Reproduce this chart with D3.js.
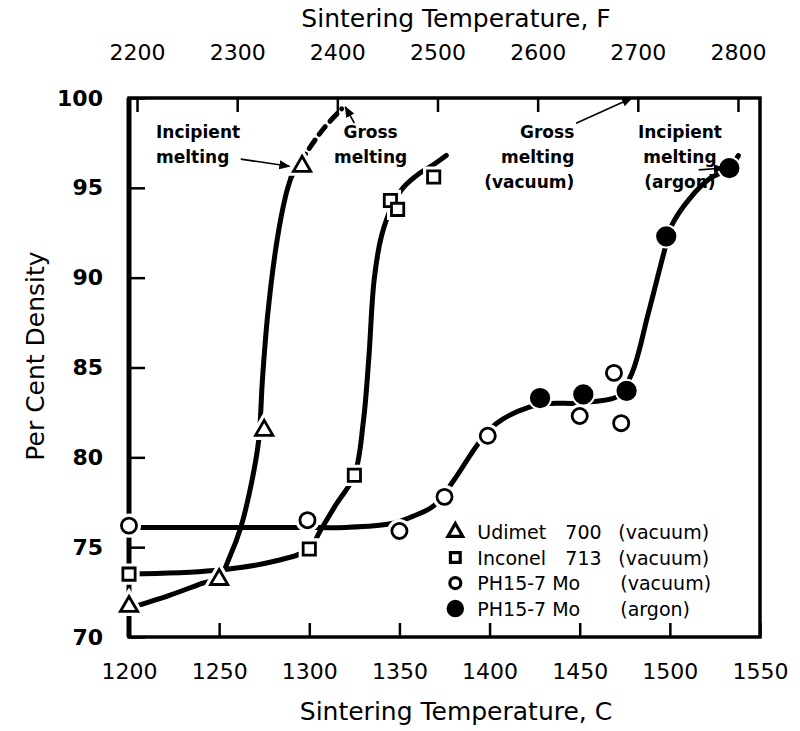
<!DOCTYPE html>
<html>
<head>
<meta charset="utf-8">
<script src="https://cdn.jsdelivr.net/npm/d3@7"></script>
<style>
  body { margin: 0; background: #fff; }
  svg text { font-family: "DejaVu Sans", sans-serif; fill: #000; }
</style>
</head>
<body>
<div id="chart"></div>
<script>
// measured points (deg C, per cent density)
const udimetC = [1200, 1250, 1275, 1296];
const udimetD = [71.7, 73.2, 81.5, 96.2];
const inconelC = [1200, 1300, 1325, 1345, 1349, 1369];
const inconelD = [73.5, 74.9, 79.0, 94.3, 93.8, 95.6];
const phVacC = [1200, 1299, 1350, 1375, 1399, 1450, 1469, 1473];
const phVacD = [76.2, 76.5, 75.9, 77.8, 81.2, 82.3, 84.7, 81.9];
const phArgC = [1428, 1452, 1476, 1498, 1533];
const phArgD = [83.3, 83.5, 83.7, 92.3, 96.1];

// faired curves drawn through the points
const udimetCurve = [[1200, 71.6], [1222, 72.3], [1241, 73.0], [1250, 73.3], [1256, 74.5], [1262, 76.1],
  [1268, 78.6], [1272, 81.0], [1274, 84.3], [1277, 88.0], [1282, 92.0], [1287, 94.6], [1290, 95.6]];
const udimetDash = [[1290, 95.6], [1298, 96.9], [1308, 98.3], [1318, 99.4]];
const inconelCurve = [[1200, 73.5], [1247, 73.7], [1280, 74.2], [1300, 74.9], [1306, 75.9], [1315, 77.4],
  [1325, 79.0], [1330, 82.0], [1333, 85.5], [1336, 89.9], [1340, 92.3], [1346, 94.0], [1352, 95.0],
  [1361, 95.8], [1369, 96.3], [1376, 96.8]];
const phCurve = [[1200, 76.1], [1293, 76.1], [1320, 76.1], [1345, 76.3], [1357, 76.7], [1369, 77.3],
  [1380, 78.7], [1394, 80.8], [1404, 81.9], [1422, 82.8], [1434, 83.0], [1447, 83.0], [1457, 83.1],
  [1471, 83.4], [1479, 84.7], [1488, 88.0], [1497, 91.5], [1501, 92.9], [1511, 94.4], [1522, 95.5],
  [1533, 96.1], [1538, 96.8]];

const xTicksC = [1200, 1250, 1300, 1350, 1400, 1450, 1500, 1550];
const xTicksF = [2200, 2300, 2400, 2500, 2600, 2700, 2800];
const yTicks = [70, 75, 80, 85, 90, 95, 100];

const legendNames = ["Udimet", "Inconel", "PH15-7 Mo", "PH15-7 Mo"];
const legendGrades = ["700", "713", "", ""];
const legendAtmos = ["(vacuum)", "(vacuum)", "(vacuum)", "(argon)"];

const width = 800;
const height = 731;
const plotLeft = 129, plotRight = 760, plotTop = 98, plotBottom = 637;

const svg = d3.select("#chart").append("svg")
  .attr("width", width)
  .attr("height", height);

const x = d3.scaleLinear().domain([1200, 1550]).range([plotLeft, plotRight]);
const xF = d3.scaleLinear().domain([1200 * 9 / 5 + 32, 1550 * 9 / 5 + 32]).range([plotLeft, plotRight]);
const y = d3.scaleLinear().domain([70, 100]).range([plotBottom, plotTop]);

// Axes with inward ticks
const axisStyle = (g) => {
  g.select(".domain").remove();
  g.selectAll(".tick line").attr("stroke", "#000").attr("stroke-width", 2.5);
  g.selectAll(".tick text").style("font-size", "22px");
};

svg.append("g")
  .attr("transform", `translate(0,${plotBottom})`)
  .call(d3.axisBottom(x).tickValues(xTicksC).tickSize(-14).tickPadding(26).tickFormat(d3.format("d")))
  .call(axisStyle);

svg.append("g")
  .attr("transform", `translate(0,${plotTop})`)
  .call(d3.axisTop(xF).tickValues(xTicksF).tickSize(-14).tickPadding(38).tickFormat(d3.format("d")))
  .call(axisStyle);

svg.append("g")
  .attr("transform", `translate(${plotLeft},0)`)
  .call(d3.axisLeft(y).tickValues(yTicks).tickSize(-16).tickPadding(26))
  .call(axisStyle)
  .call((g) => g.selectAll(".tick text").style("font-weight", "bold"));

// frame
svg.append("rect")
  .attr("x", plotLeft).attr("y", plotTop)
  .attr("width", plotRight - plotLeft).attr("height", plotBottom - plotTop)
  .attr("fill", "none").attr("stroke", "#000").attr("stroke-width", 3.5);
svg.append("line")
  .attr("x1", plotLeft).attr("x2", plotLeft).attr("y1", plotTop).attr("y2", plotBottom)
  .attr("stroke", "#000").attr("stroke-width", 5);

// axis titles
svg.append("text").attr("x", 456).attr("y", 27).attr("text-anchor", "middle")
  .style("font-size", "25px").text("Sintering Temperature, F");
svg.append("text").attr("x", 456).attr("y", 720).attr("text-anchor", "middle")
  .style("font-size", "25px").text("Sintering Temperature, C");
svg.append("text").attr("transform", "translate(44,356) rotate(-90)").attr("text-anchor", "middle")
  .style("font-size", "25px").text("Per Cent Density");

// curves
const line = d3.line().x((d) => x(d[0])).y((d) => y(d[1])).curve(d3.curveCatmullRom.alpha(0.5));
const curves = svg.append("g").attr("fill", "none").attr("stroke", "#000").attr("stroke-linecap", "round");
curves.append("path").attr("d", line(udimetCurve)).attr("stroke-width", 5);
curves.append("path").attr("d", line(udimetDash)).attr("stroke-width", 5).attr("stroke-dasharray", "10,7");
curves.append("path").attr("d", line(inconelCurve)).attr("stroke-width", 5);
curves.append("path").attr("d", line(phCurve)).attr("stroke-width", 5);

// markers, with a white halo so the lines break round them
const markers = svg.append("g");
function drawMarkers(cs, ds, type, filled) {
  const pts = cs.map((c, i) => [c, ds[i]]);
  const sym = d3.symbol().type(type).size(type === d3.symbolTriangle ? 130 : type === d3.symbolSquare ? 150 : 180);
  const g = markers.append("g");
  g.selectAll(".halo").data(pts).enter().append("path")
    .attr("transform", (d) => `translate(${x(d[0])},${y(d[1])})`)
    .attr("d", sym).attr("fill", "#fff").attr("stroke", "#fff").attr("stroke-width", 9);
  g.selectAll(".m").data(pts).enter().append("path")
    .attr("transform", (d) => `translate(${x(d[0])},${y(d[1])})`)
    .attr("d", filled ? d3.symbol().type(d3.symbolCircle).size(240) : sym)
    .attr("fill", filled ? "#000" : "#fff").attr("stroke", "#000").attr("stroke-width", 2.8);
}
drawMarkers(udimetC, udimetD, d3.symbolTriangle, false);
drawMarkers(inconelC, inconelD, d3.symbolSquare, false);
drawMarkers(phVacC, phVacD, d3.symbolCircle, false);
drawMarkers(phArgC, phArgD, d3.symbolCircle, true);

// annotations
svg.append("defs").append("marker")
  .attr("id", "arrow").attr("viewBox", "0 0 10 10").attr("refX", 9).attr("refY", 5)
  .attr("markerWidth", 7).attr("markerHeight", 7).attr("orient", "auto-start-reverse")
  .append("path").attr("d", "M0,1 L10,5 L0,9 z").attr("fill", "#000");

const notes = svg.append("g").style("font-size", "17px").style("font-weight", "bold");
function note(c, d, lines, anchor) {
  const t = notes.append("text").attr("x", x(c)).attr("y", y(d)).attr("text-anchor", anchor);
  lines.forEach((s, i) => t.append("tspan").attr("x", x(c)).attr("dy", i === 0 ? 0 : 25).text(s));
}
function arrow(c0, d0, c1, d1) {
  svg.append("line")
    .attr("x1", x(c0)).attr("y1", y(d0)).attr("x2", x(c1)).attr("y2", y(d1))
    .attr("stroke", "#000").attr("stroke-width", 1.6).attr("marker-end", "url(#arrow)");
}
note(1215, 97.8, ["Incipient", "melting"], "start");
arrow(1262, 96.6, 1289, 96.2);
note(1334, 97.8, ["Gross", "melting"], "middle");
arrow(1325, 98.6, 1320, 99.5);
note(1447, 97.8, ["Gross", "melting", "(vacuum)"], "end");
arrow(1448, 98.6, 1479, 100);
note(1505.6, 97.8, ["Incipient", "melting", "(argon)"], "middle");
arrow(1516, 96.0, 1530, 96.1);

// legend
const legendTypes = [d3.symbolTriangle, d3.symbolSquare, d3.symbolCircle, d3.symbolCircle];
const legend = svg.append("g").attr("transform", `translate(${x(1381)},${y(75.84)})`);
legendNames.forEach((s, i) => {
  const row = legend.append("g").attr("transform", `translate(0,${i * 25.5})`);
  row.append("path")
    .attr("d", d3.symbol().type(legendTypes[i]).size(i === 3 ? 160 : 95))
    .attr("fill", i === 3 ? "#000" : "#fff").attr("stroke", "#000").attr("stroke-width", 3.2);
  row.append("text").attr("x", 22).attr("y", 7).style("font-size", "19px").text(s);
  row.append("text").attr("x", 110).attr("y", 7).style("font-size", "19px").text(legendGrades[i]);
  row.append("text").attr("x", 163 + (i > 1 ? 2 : 0)).attr("y", 7).style("font-size", "19px").text(legendAtmos[i]);
});
</script>
</body>
</html>
